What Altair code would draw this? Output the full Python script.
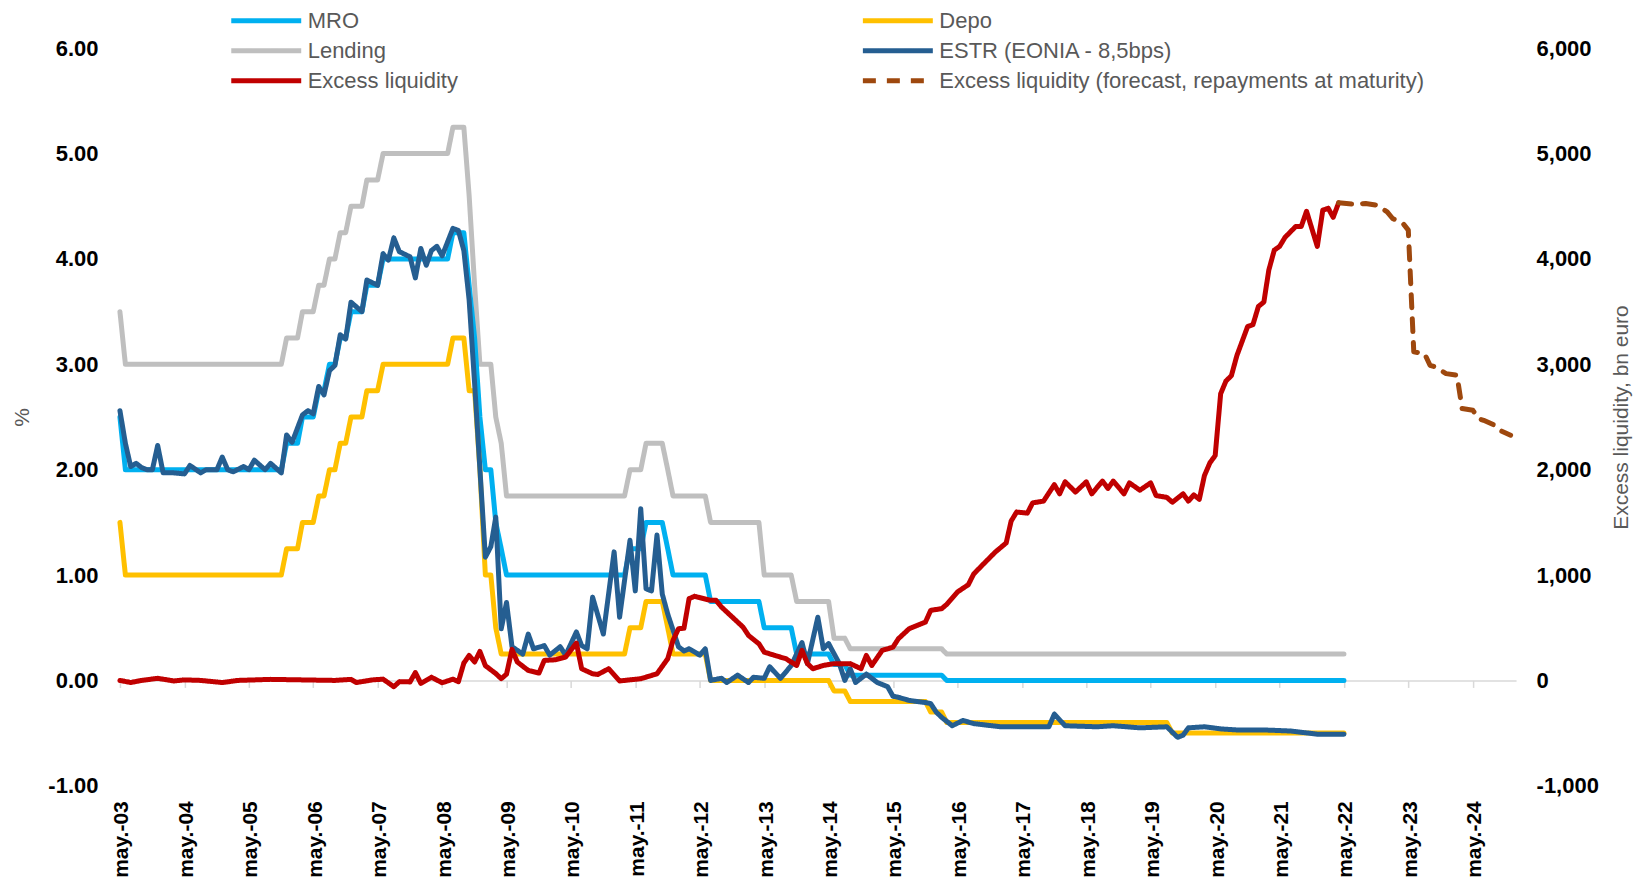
import altair as alt
import pandas as pd

# ---------------- data ----------------
# legend order is column-major: first column MRO / Lending / Excess liquidity
SERIES = ["MRO", "Lending", "Excess liquidity", "Depo", "ESTR (EONIA - 8,5bps)",
          "Excess liquidity (forecast, repayments at maturity)"]
COLORS = ["#00B0F0", "#BFBFBF", "#C00000", "#FFC000", "#255E91", "#9E480E"]
DASHES = [[1, 0], [1, 0], [1, 0], [1, 0], [1, 0], [13, 11]]

MRO = [("2003-05", 2.50), ("2003-06", 2.00), ("2005-11", 2.00), ("2005-12", 2.25), ("2006-02", 2.25),
       ("2006-03", 2.50), ("2006-05", 2.50), ("2006-06", 2.75), ("2006-07", 2.75), ("2006-08", 3.00),
       ("2006-09", 3.00), ("2006-10", 3.25), ("2006-11", 3.25), ("2006-12", 3.50), ("2007-02", 3.50),
       ("2007-03", 3.75), ("2007-05", 3.75), ("2007-06", 4.00), ("2008-06", 4.00), ("2008-07", 4.25),
       ("2008-09", 4.25), ("2008-10", 3.75), ("2008-11", 3.25), ("2008-12", 2.50), ("2009-01", 2.00),
       ("2009-02", 2.00), ("2009-03", 1.50), ("2009-04", 1.25), ("2009-05", 1.00), ("2011-03", 1.00),
       ("2011-04", 1.25), ("2011-06", 1.25), ("2011-07", 1.50), ("2011-10", 1.50), ("2011-11", 1.25),
       ("2011-12", 1.00), ("2012-06", 1.00), ("2012-07", 0.75), ("2013-04", 0.75), ("2013-05", 0.50),
       ("2013-10", 0.50), ("2013-11", 0.25), ("2014-05", 0.25), ("2014-06", 0.15), ("2014-08", 0.15),
       ("2014-09", 0.05), ("2016-02", 0.05), ("2016-03", 0.00), ("2022-05", 0.00)]

DEPO = [("2003-05", 1.50), ("2003-06", 1.00), ("2005-11", 1.00), ("2005-12", 1.25), ("2006-02", 1.25),
        ("2006-03", 1.50), ("2006-05", 1.50), ("2006-06", 1.75), ("2006-07", 1.75), ("2006-08", 2.00),
        ("2006-09", 2.00), ("2006-10", 2.25), ("2006-11", 2.25), ("2006-12", 2.50), ("2007-02", 2.50),
        ("2007-03", 2.75), ("2007-05", 2.75), ("2007-06", 3.00), ("2008-06", 3.00), ("2008-07", 3.25),
        ("2008-09", 3.25), ("2008-10", 2.75), ("2008-11", 2.75), ("2008-12", 2.00), ("2009-01", 1.00),
        ("2009-02", 1.00), ("2009-03", 0.50), ("2009-04", 0.25), ("2011-03", 0.25), ("2011-04", 0.50),
        ("2011-06", 0.50), ("2011-07", 0.75), ("2011-10", 0.75), ("2011-11", 0.50), ("2011-12", 0.25),
        ("2012-06", 0.25), ("2012-07", 0.00), ("2014-05", 0.00), ("2014-06", -0.10), ("2014-08", -0.10),
        ("2014-09", -0.20), ("2015-11", -0.20), ("2015-12", -0.30), ("2016-02", -0.30), ("2016-03", -0.40),
        ("2019-08", -0.40), ("2019-09", -0.50), ("2022-05", -0.50)]

LENDING = [("2003-05", 3.50), ("2003-06", 3.00), ("2005-11", 3.00), ("2005-12", 3.25), ("2006-02", 3.25),
           ("2006-03", 3.50), ("2006-05", 3.50), ("2006-06", 3.75), ("2006-07", 3.75), ("2006-08", 4.00),
           ("2006-09", 4.00), ("2006-10", 4.25), ("2006-11", 4.25), ("2006-12", 4.50), ("2007-02", 4.50),
           ("2007-03", 4.75), ("2007-05", 4.75), ("2007-06", 5.00), ("2008-06", 5.00), ("2008-07", 5.25),
           ("2008-09", 5.25), ("2008-10", 4.60), ("2008-11", 3.75), ("2008-12", 3.00), ("2009-02", 3.00),
           ("2009-03", 2.50), ("2009-04", 2.25), ("2009-05", 1.75), ("2011-03", 1.75), ("2011-04", 2.00),
           ("2011-06", 2.00), ("2011-07", 2.25), ("2011-10", 2.25), ("2011-11", 2.00), ("2011-12", 1.75),
           ("2012-06", 1.75), ("2012-07", 1.50), ("2013-04", 1.50), ("2013-05", 1.00), ("2013-10", 1.00),
           ("2013-11", 0.75), ("2014-05", 0.75), ("2014-06", 0.40), ("2014-08", 0.40), ("2014-09", 0.30),
           ("2016-02", 0.30), ("2016-03", 0.25), ("2022-05", 0.25)]

ESTR = [("2003-05", 2.56), ("2003-06", 2.25), ("2003-07", 2.03), ("2003-08", 2.06), ("2003-09", 2.02),
        ("2003-10", 2.00), ("2003-11", 2.00), ("2003-12", 2.23), ("2004-01", 1.97), ("2004-03", 1.97),
        ("2004-05", 1.96), ("2004-06", 2.04), ("2004-08", 1.97), ("2004-09", 2.00), ("2004-11", 2.00),
        ("2004-12", 2.12), ("2005-01", 2.00), ("2005-02", 1.98), ("2005-04", 2.03), ("2005-05", 2.00),
        ("2005-06", 2.09), ("2005-08", 2.00), ("2005-09", 2.06), ("2005-11", 1.97), ("2005-12", 2.33),
        ("2006-01", 2.26), ("2006-03", 2.52), ("2006-04", 2.56), ("2006-05", 2.53), ("2006-06", 2.79),
        ("2006-07", 2.71), ("2006-08", 2.94), ("2006-09", 2.99), ("2006-10", 3.28), ("2006-11", 3.24),
        ("2006-12", 3.59), ("2007-02", 3.50), ("2007-03", 3.80), ("2007-05", 3.75), ("2007-06", 4.05),
        ("2007-07", 3.99), ("2007-08", 4.20), ("2007-09", 4.07), ("2007-11", 4.02), ("2007-12", 3.82),
        ("2008-01", 4.10), ("2008-02", 3.94), ("2008-03", 4.08), ("2008-04", 4.12), ("2008-05", 4.03),
        ("2008-07", 4.29), ("2008-08", 4.27), ("2008-09", 4.08), ("2008-10", 3.61), ("2008-11", 2.82),
        ("2009-01", 1.17), ("2009-02", 1.27), ("2009-03", 1.55), ("2009-04", 0.49), ("2009-05", 0.74),
        ("2009-06", 0.32), ("2009-08", 0.25), ("2009-09", 0.44), ("2009-10", 0.30), ("2009-12", 0.33),
        ("2010-01", 0.24), ("2010-03", 0.32), ("2010-04", 0.24), ("2010-06", 0.46), ("2010-07", 0.33),
        ("2010-08", 0.30), ("2010-09", 0.79), ("2010-11", 0.44), ("2011-01", 1.22), ("2011-02", 0.60),
        ("2011-04", 1.33), ("2011-05", 0.85), ("2011-06", 1.63), ("2011-07", 0.87), ("2011-08", 0.85),
        ("2011-09", 1.38), ("2011-10", 0.82), ("2011-11", 0.63), ("2012-01", 0.32), ("2012-02", 0.28),
        ("2012-03", 0.30), ("2012-05", 0.24), ("2012-06", 0.30), ("2012-07", 0.00), ("2012-09", 0.02),
        ("2012-10", -0.02), ("2012-12", 0.05), ("2013-02", -0.02), ("2013-03", 0.03), ("2013-05", 0.02),
        ("2013-06", 0.13), ("2013-08", 0.02), ("2013-10", 0.14), ("2013-12", 0.36), ("2014-01", 0.16),
        ("2014-03", 0.60), ("2014-04", 0.30), ("2014-05", 0.35), ("2014-07", 0.16), ("2014-08", 0.00),
        ("2014-09", 0.11), ("2014-10", -0.02), ("2014-12", 0.06), ("2015-02", -0.02), ("2015-04", -0.06),
        ("2015-05", -0.15), ("2015-06", -0.16), ("2015-08", -0.19), ("2015-11", -0.21), ("2015-12", -0.22),
        ("2016-01", -0.30), ("2016-02", -0.35), ("2016-04", -0.43), ("2016-06", -0.38), ("2016-08", -0.41),
        ("2017-01", -0.44), ("2017-10", -0.44), ("2017-11", -0.32), ("2018-01", -0.43), ("2018-07", -0.44),
        ("2018-10", -0.43), ("2019-03", -0.45), ("2019-08", -0.44), ("2019-10", -0.54), ("2019-11", -0.52),
        ("2019-12", -0.45), ("2020-03", -0.44), ("2020-06", -0.46), ("2020-09", -0.47), ("2021-02", -0.47),
        ("2021-07", -0.48), ("2021-12", -0.51), ("2022-05", -0.51)]

EXCESS = [("2003-05", 0), ("2003-07", -20), ("2003-09", 0), ("2003-12", 20), ("2004-03", -5),
          ("2004-05", 5), ("2004-08", 0), ("2004-12", -20), ("2005-03", 0), ("2005-09", 10),
          ("2006-03", 5), ("2006-09", 0), ("2006-12", 10), ("2007-01", -20), ("2007-04", 5),
          ("2007-06", 12), ("2007-08", -60), ("2007-09", -12), ("2007-11", -14), ("2007-12", 75),
          ("2008-01", -28), ("2008-03", 30), ("2008-05", -22), ("2008-07", 12), ("2008-08", -12),
          ("2008-09", 165), ("2008-10", 237), ("2008-11", 175), ("2008-12", 275), ("2009-01", 140),
          ("2009-03", 65), ("2009-04", 16), ("2009-05", 60), ("2009-06", 295), ("2009-07", 175),
          ("2009-09", 95), ("2009-11", 70), ("2009-12", 190), ("2010-02", 196), ("2010-04", 222),
          ("2010-06", 355), ("2010-07", 111), ("2010-09", 63), ("2010-10", 57), ("2010-12", 111),
          ("2011-02", -5), ("2011-03", 0), ("2011-06", 16), ("2011-09", 63), ("2011-11", 206),
          ("2011-12", 380), ("2012-01", 491), ("2012-02", 495), ("2012-03", 776), ("2012-04", 798),
          ("2012-07", 760), ("2012-08", 760), ("2012-09", 696), ("2012-11", 601), ("2013-01", 506),
          ("2013-02", 427), ("2013-04", 348), ("2013-05", 269), ("2013-07", 237), ("2013-09", 206),
          ("2013-11", 142), ("2013-12", 285), ("2014-01", 159), ("2014-02", 111), ("2014-04", 142),
          ("2014-06", 159), ("2014-09", 159), ("2014-11", 111), ("2014-12", 237), ("2015-01", 142),
          ("2015-03", 285), ("2015-05", 316), ("2015-06", 396), ("2015-08", 491), ("2015-11", 554),
          ("2015-12", 665), ("2016-02", 681), ("2016-03", 722), ("2016-05", 840), ("2016-07", 908),
          ("2016-08", 1011), ("2016-10", 1115), ("2016-12", 1218), ("2017-02", 1305), ("2017-03", 1512),
          ("2017-04", 1598), ("2017-06", 1588), ("2017-07", 1685), ("2017-09", 1702), ("2017-11", 1858),
          ("2017-12", 1771), ("2018-01", 1885), ("2018-03", 1788), ("2018-05", 1885), ("2018-06", 1771),
          ("2018-08", 1892), ("2018-09", 1822), ("2018-10", 1892), ("2018-12", 1771), ("2019-01", 1875),
          ("2019-03", 1805), ("2019-05", 1875), ("2019-06", 1754), ("2019-08", 1737), ("2019-09", 1691),
          ("2019-11", 1771), ("2019-12", 1702), ("2020-01", 1761), ("2020-02", 1719), ("2020-03", 1944),
          ("2020-04", 2065), ("2020-05", 2134), ("2020-06", 2721), ("2020-07", 2841), ("2020-08", 2893),
          ("2020-09", 3083), ("2020-11", 3359), ("2020-12", 3376), ("2021-01", 3549), ("2021-02", 3591),
          ("2021-03", 3894), ("2021-04", 4084), ("2021-05", 4119), ("2021-06", 4205), ("2021-08", 4309),
          ("2021-09", 4309), ("2021-10", 4453), ("2021-12", 4119), ("2022-01", 4463), ("2022-02", 4481),
          ("2022-03", 4395), ("2022-04", 4533)]

FORECAST = [("2022-04", 4533), ("2022-07", 4520), ("2022-09", 4527), ("2022-11", 4511), ("2022-12", 4480),
            ("2023-01", 4447), ("2023-02", 4384), ("2023-04", 4337), ("2023-05", 4274), ("2023-06", 3118),
            ("2023-08", 3102), ("2023-09", 2991), ("2023-10", 2975), ("2023-12", 2912), ("2024-02", 2896),
            ("2024-03", 2580), ("2024-05", 2564), ("2024-06", 2485), ("2024-07", 2469), ("2024-09", 2422),
            ("2024-10", 2374), ("2024-12", 2327)]

TICK_YEARS = list(range(2003, 2025))
LEFT_TICKS = [-1, 0, 1, 2, 3, 4, 5, 6]
RIGHT_TICKS = [-1000, 0, 1000, 2000, 3000, 4000, 5000, 6000]


def frame(points, name):
    return pd.DataFrame({"date": [d + "-01" for d, _ in points],
                         "value": [v for _, v in points],
                         "series": name})


# ---------------- shared encodings ----------------
W, H = 1397, 738
FONT = "Liberation Sans"

xscale = alt.Scale(type="utc", nice=False,
                   domain=[alt.DateTime(year=2003, month=5, date=1, utc=True),
                           alt.DateTime(year=2025, month=1, date=1, utc=True)])
tick_vals = [alt.DateTime(year=y, month=5, date=1, utc=True) for y in TICK_YEARS]

ax_labels = alt.Axis(orient="bottom", values=tick_vals, title=None,
                     labelExpr="'may.-' + utcFormat(datum.value, '%y')",
                     labelAngle=270, labelAlign="right", labelBaseline="middle",
                     labelPadding=15, labelOffset=2, labelFont=FONT, labelFontSize=21,
                     labelFontWeight="bold", labelColor="#000000", ticks=False, domain=False,
                     grid=False, labelOverlap=False)
ax_zero = alt.Axis(orient="bottom", values=tick_vals, title=None, labels=False,
                   offset=-H / 7.0, ticks=True, tickSize=7, tickWidth=1.5, tickColor="#D9D9D9",
                   domain=True, domainColor="#D9D9D9", domainWidth=1.5, grid=False, zindex=0)

legend = alt.Legend(title=None, orient="none", legendX=111.4, legendY=-38.5, columns=2,
                    columnPadding=395, rowPadding=8, padding=0,
                    symbolType="M-5,0H5", symbolSize=196, symbolStrokeWidth=5,
                    symbolOffset=24, labelOffset=30.5, labelFont=FONT, labelFontSize=22,
                    labelColor="#595959", labelLimit=900)
color = alt.Color("series:N", scale=alt.Scale(domain=SERIES, range=COLORS), legend=legend)
dash = alt.StrokeDash("series:N", scale=alt.Scale(domain=SERIES, range=DASHES), legend=legend)

y_left = alt.Y("value:Q", scale=alt.Scale(domain=[-1, 6], nice=False, zero=False),
               axis=alt.Axis(orient="left", values=LEFT_TICKS,
                             labelExpr="replace(format(datum.value, '.2f'), '\u2212', '-')",
                             labelFont=FONT, labelFontSize=22, labelFontWeight="bold",
                             labelColor="#000000", labelPadding=22, ticks=False, domain=False,
                             grid=False, title="%", titleFont=FONT, titleFontSize=21,
                             titleFontWeight="normal", titleColor="#595959", titleAngle=270,
                             titleX=-97, titleY=H / 2, titleBaseline="middle", titleAlign="center"))
y_right = alt.Y("value:Q", scale=alt.Scale(domain=[-1000, 6000], nice=False, zero=False),
                axis=alt.Axis(orient="right", values=RIGHT_TICKS,
                              labelExpr="replace(format(datum.value, ',.0f'), '\u2212', '-')",
                              labelFont=FONT, labelFontSize=22, labelFontWeight="bold",
                              labelColor="#000000", labelPadding=20, ticks=False, domain=False,
                              grid=False, title="Excess liquidity, bn euro", titleFont=FONT,
                              titleFontSize=21, titleFontWeight="normal", titleColor="#595959",
                              titleAngle=270, titleX=105, titleY=H / 2, titleBaseline="middle",
                              titleAlign="center"))


def line(points, name, x_axis, y_enc):
    return alt.Chart(frame(points, name)).mark_line(
        strokeWidth=5, strokeCap="round", strokeJoin="round"
    ).encode(
        x=alt.X("date:T", scale=xscale, axis=x_axis),
        y=y_enc,
        color=color,
        strokeDash=dash,
    )


rates = alt.layer(
    line(LENDING, "Lending", ax_labels, y_left),
    line(MRO, "MRO", ax_labels, y_left),
    line(DEPO, "Depo", ax_labels, y_left),
    line(ESTR, "ESTR (EONIA - 8,5bps)", ax_labels, y_left),
)
excess = alt.layer(
    line(EXCESS, "Excess liquidity", ax_zero, y_right),
    line(FORECAST, "Excess liquidity (forecast, repayments at maturity)", ax_zero, y_right),
)

chart = alt.layer(rates, excess).resolve_scale(y="independent").resolve_axis(
    x="independent", y="independent"
).properties(
    width=W, height=H,
    autosize=alt.AutoSizeParams(type="none"),
    padding={"left": 112, "top": 40, "right": 118, "bottom": 92},
).configure_view(stroke=None)

chart.save("out.html", embed_options={"renderer": "svg", "actions": False})
